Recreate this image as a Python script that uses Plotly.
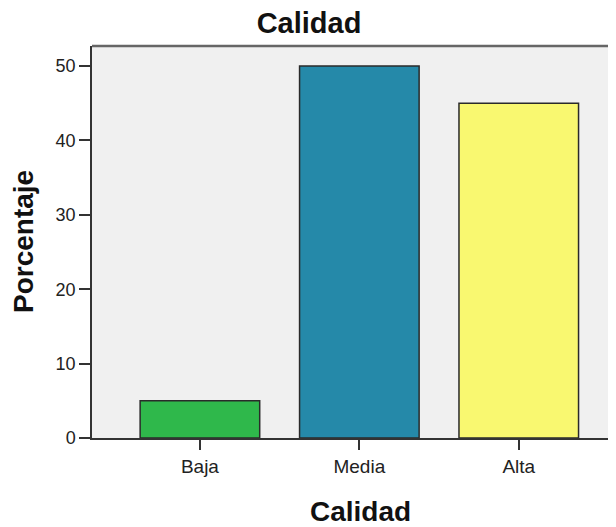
import plotly.graph_objects as go

categories = ["Baja", "Media", "Alta"]
porcentaje = [5, 50, 45]
bar_colors = ["#2fb84b", "#2589a9", "#f9f870"]
y_ticks = [0, 10, 20, 30, 40, 50]

FONT = "Liberation Sans, Arial, sans-serif"

W, H = 608, 519          # page body has an 8px margin
L, T, B = 84, 38, 89
PW = W - L
PH = H - T - B

fig = go.Figure()
fig.add_trace(go.Bar(
    x=[0, 1, 2], y=porcentaje,
    width=0.75,
    marker=dict(color=bar_colors, line=dict(color="#2a2a2a", width=1.5)),
    showlegend=False,
))

fig.update_layout(
    width=W, height=H,
    margin=dict(l=L, r=0, t=T, b=B, pad=0),
    paper_bgcolor="white",
    plot_bgcolor="#f0f0f0",
    font=dict(family=FONT, size=18, color="#222"),
    title=dict(text="<b>Calidad</b>", x=301 / W, xref="container", xanchor="center",
               y=1 - 15 / H, yref="container", yanchor="middle",
               font=dict(family=FONT, size=29, color="#111")),
    xaxis=dict(range=[-0.677, 2.61], tickmode="array", tickvals=[0, 1, 2],
               ticktext=categories, ticks="outside", ticklen=10, tickwidth=1.5,
               tickcolor="#333", showline=True, linecolor="#333", linewidth=1.5,
               showgrid=False, zeroline=False, fixedrange=True,
               tickfont=dict(size=19, color="#222")),
    yaxis=dict(range=[0, 52.7], tickmode="array", tickvals=y_ticks,
               ticks="outside", ticklen=11, tickwidth=1.5, tickcolor="#333",
               showline=True, linecolor="#333", linewidth=1.5,
               showgrid=False, zeroline=False, fixedrange=True,
               tickfont=dict(size=18, color="#222")),
    shapes=[dict(type="line", xref="paper", yref="paper", x0=0, x1=1, y0=1, y1=1,
                 line=dict(color="#666", width=2.5))],
    annotations=[
        dict(text="<b>Porcentaje</b>", xref="paper", yref="paper",
             x=(15 - L) / PW, y=0.5, xanchor="center", yanchor="middle",
             textangle=-90, showarrow=False, font=dict(family=FONT, size=28, color="#111")),
        dict(text="<b>Calidad</b>", xref="paper", yref="paper",
             x=(352 - L) / PW, y=(T + PH - 503) / PH, xanchor="center", yanchor="middle",
             showarrow=False, font=dict(family=FONT, size=28, color="#111")),
    ],
)

fig.write_html("out.html")
